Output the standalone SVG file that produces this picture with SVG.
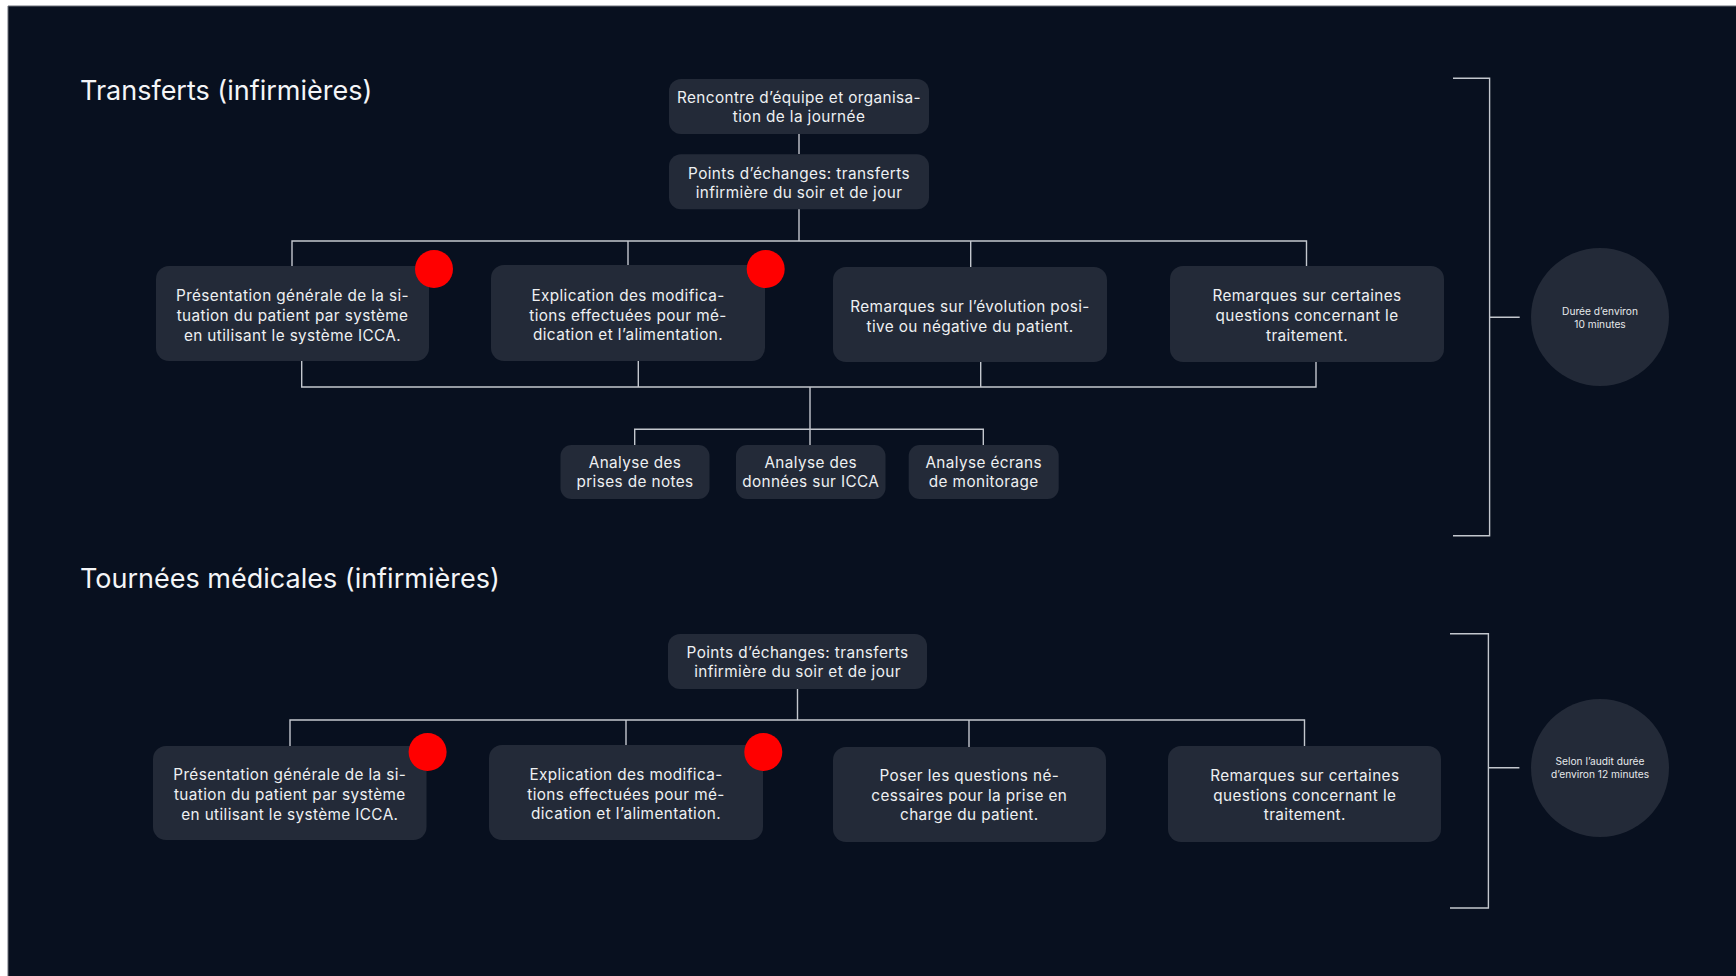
<svg xmlns="http://www.w3.org/2000/svg" width="1736" height="976" viewBox="0 0 1736 976">
<style>
.bg{fill:#08101f}
.node{fill:#232a38}
.dot{fill:#ff0000}
.t{font-family:Inter,"Open Sans",sans-serif;font-size:15.3px;letter-spacing:0.4px;fill:#eef0f2;text-anchor:middle}
.title{font-family:Inter,"Open Sans",sans-serif;font-size:27px;fill:#f4f5f7}
.small{font-family:Inter,"Open Sans",sans-serif;font-size:10.2px;fill:#e6e8eb;text-anchor:middle}
.ln{fill:none;stroke:#c3c7ce;stroke-width:1.4}
</style>
<rect x="0" y="0" width="1736" height="976" fill="#ffffff"/>
<rect class="bg" x="8" y="6" width="1728" height="970"/>
<path d="M8,6 H1736 M8,6 V976" fill="none" stroke="#6a6f78" stroke-width="1"/>

<text class="title" x="80" y="100">Transferts (infirmières)</text>
<text class="title" x="80" y="588">Tournées médicales (infirmières)</text>

<g id="connectors">
  <path class="ln" d="M799,134 V154"/>
  <path class="ln" d="M799,209 V241 M292,266 V241 H1306.5 V266 M628,241 V265 M970.7,241 V267"/>
  <path class="ln" d="M301.7,361 V387 H1316 V362 M638.3,361 V387 M980.7,362 V387"/>
  <path class="ln" d="M810,387 V445 M634.7,445 V429.3 H983.3 V445"/>
  <path class="ln" d="M1453,78.3 H1489.6 V535.7 H1453 M1489.6,317.3 H1519.7"/>
  <path class="ln" d="M797.5,689 V720 M290,746 V720 H1304.5 V746 M626,720 V745 M969,720 V747"/>
  <path class="ln" d="M1450,633.7 H1488.4 V908 H1450 M1488.4,767.7 H1519.4"/>
</g>

<g id="n-rencontre">
  <rect class="node" x="669" y="79" width="260" height="55" rx="12"/>
  <text class="t" x="799" y="103.3">Rencontre d’équipe et organisa-</text>
  <text class="t" x="799" y="122.3">tion de la journée</text>
</g>
<g id="n-points1">
  <rect class="node" x="669" y="154.3" width="260" height="55" rx="12"/>
  <text class="t" x="799" y="179">Points d’échanges: transferts</text>
  <text class="t" x="799" y="197.8">infirmière du soir et de jour</text>
</g>
<g id="n-s1b1">
  <rect class="node" x="156" y="266" width="273" height="95" rx="13"/>
  <text class="t" x="292.5" y="301">Présentation générale de la si-</text>
  <text class="t" x="292.5" y="321">tuation du patient par système</text>
  <text class="t" x="292.5" y="340.5">en utilisant le système ICCA.</text>
  <circle class="dot" cx="434" cy="269" r="19"/>
</g>
<g id="n-s1b2">
  <rect class="node" x="491" y="265" width="274" height="96" rx="13"/>
  <text class="t" x="628" y="300.5">Explication des modifica-</text>
  <text class="t" x="628" y="320.5">tions effectuées pour mé-</text>
  <text class="t" x="628" y="340">dication et l’alimentation.</text>
  <circle class="dot" cx="765.7" cy="269" r="19"/>
</g>
<g id="n-s1b3">
  <rect class="node" x="833" y="267" width="274" height="95" rx="13"/>
  <text class="t" x="970" y="311.7">Remarques sur l’évolution posi-</text>
  <text class="t" x="970" y="331.7">tive ou négative du patient.</text>
</g>
<g id="n-s1b4">
  <rect class="node" x="1170" y="266" width="274" height="96" rx="13"/>
  <text class="t" x="1307" y="301">Remarques sur certaines</text>
  <text class="t" x="1307" y="321">questions concernant le</text>
  <text class="t" x="1307" y="341">traitement.</text>
</g>
<g id="n-a1">
  <rect class="node" x="560.5" y="445" width="149" height="54" rx="11"/>
  <text class="t" x="635" y="468.3">Analyse des</text>
  <text class="t" x="635" y="487.3">prises de notes</text>
</g>
<g id="n-a2">
  <rect class="node" x="736" y="445" width="149.5" height="54" rx="11"/>
  <text class="t" x="810.7" y="468.3">Analyse des</text>
  <text class="t" x="810.7" y="487.3">données sur ICCA</text>
</g>
<g id="n-a3">
  <rect class="node" x="908.7" y="445" width="150" height="54" rx="11"/>
  <text class="t" x="983.7" y="468.3">Analyse écrans</text>
  <text class="t" x="983.7" y="487.3">de monitorage</text>
</g>
<g id="n-dur1">
  <circle class="node" cx="1600" cy="317" r="69"/>
  <text class="small" x="1600" y="315">Durée d’environ</text>
  <text class="small" x="1600" y="328">10 minutes</text>
</g>

<g id="n-points2">
  <rect class="node" x="668" y="634" width="259" height="55" rx="12"/>
  <text class="t" x="797.5" y="658.3">Points d’échanges: transferts</text>
  <text class="t" x="797.5" y="677.3">infirmière du soir et de jour</text>
</g>
<g id="n-s2b1">
  <rect class="node" x="153" y="746" width="273.5" height="94" rx="13"/>
  <text class="t" x="289.8" y="780">Présentation générale de la si-</text>
  <text class="t" x="289.8" y="800">tuation du patient par système</text>
  <text class="t" x="289.8" y="819.5">en utilisant le système ICCA.</text>
  <circle class="dot" cx="427.6" cy="752" r="19"/>
</g>
<g id="n-s2b2">
  <rect class="node" x="489" y="745" width="274" height="95" rx="13"/>
  <text class="t" x="626" y="779.5">Explication des modifica-</text>
  <text class="t" x="626" y="799.5">tions effectuées pour mé-</text>
  <text class="t" x="626" y="819">dication et l’alimentation.</text>
  <circle class="dot" cx="763.3" cy="752" r="19"/>
</g>
<g id="n-s2b3">
  <rect class="node" x="833" y="747" width="273" height="95" rx="13"/>
  <text class="t" x="969.3" y="780.5">Poser les questions né-</text>
  <text class="t" x="969.3" y="800.5">cessaires pour la prise en</text>
  <text class="t" x="969.3" y="820">charge du patient.</text>
</g>
<g id="n-s2b4">
  <rect class="node" x="1168" y="746" width="273" height="96" rx="13"/>
  <text class="t" x="1304.8" y="780.5">Remarques sur certaines</text>
  <text class="t" x="1304.8" y="800.5">questions concernant le</text>
  <text class="t" x="1304.8" y="820">traitement.</text>
</g>
<g id="n-dur2">
  <circle class="node" cx="1600" cy="768" r="69"/>
  <text class="small" x="1600" y="765">Selon l’audit durée</text>
  <text class="small" x="1600" y="778">d’environ 12 minutes</text>
</g>
</svg>
